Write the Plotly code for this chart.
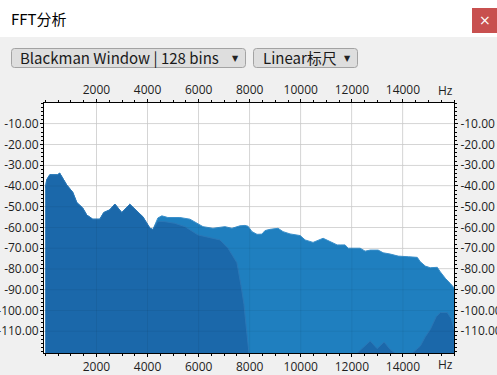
import numpy as np
import plotly.graph_objects as go

# ---------------- data ----------------
# low band: both spectra coincide
low_freq = [0, 50, 170, 480, 560, 680, 835, 1070, 1230, 1460, 1620, 1855, 2130, 2285,
            2520, 2720, 2990, 3305, 3580, 3815, 4090, 4210]
low_db = [-41, -37, -34.6, -34.6, -33.8, -36, -39.5, -43, -48, -50.6, -54, -56, -56, -52.8,
          -51.5, -48.7, -52.8, -48.8, -52.3, -54.8, -60.3, -61]

# upper part of the lighter (back) spectrum
light_hi_freq = [4405, 4560, 4795, 5265, 5660, 5935, 6170, 6560, 7030, 7305,
                 7620, 7815, 7935, 8090, 8285, 8480, 8600, 8795, 9110, 9305,
                 9580, 9975, 10170, 10480, 10755, 10875, 11150, 11425, 11540, 11735,
                 11855, 12325, 12520, 12720, 13030, 13225, 13500, 13815, 14210, 14560,
                 14680, 14875, 15070, 15345, 15465, 15660, 15855, 16000]
light_hi_db = [-55.4, -54.4, -55.2, -55.2, -56, -58, -59.6, -60.4, -59.6, -60.4,
               -59.2, -59.0, -59.4, -62, -63.3, -63.2, -61.5, -60.9, -60.4, -62,
               -63.1, -63.9, -66, -67.2, -65.7, -65.2, -66.8, -68.4, -68.4, -68.4,
               -70, -70, -71.4, -70.9, -70.9, -72.2, -72.8, -73.8, -74.1, -74.4,
               -76.5, -78.6, -79.4, -79.2, -81.4, -84.5, -87, -89]

# upper part of the darker (front) spectrum
dark_hi_freq = [4405, 4680, 5070, 5465, 5975, 6445, 6835, 7150, 7500, 7660, 7775, 7855,
                7935, 8010, 12150, 12210, 12720, 12990, 13265, 13500, 13740, 14365,
                14680, 14875, 15070, 15305, 15465, 15735, 15895, 16000]
dark_hi_db = [-57, -57.2, -58, -59.6, -63.6, -65, -66, -70, -77, -88, -97, -107,
              -117, -125, -125, -120.5, -114.7, -118.4, -115.2, -118.8, -121, -120.5,
              -117.2, -112.7, -109.2, -103, -101, -101, -104, -109]

x_ticks = [2000, 4000, 6000, 8000, 10000, 12000, 14000]
y_ticks = [-10, -20, -30, -40, -50, -60, -70, -80, -90, -100, -110]
window_label = "Blackman Window | 128 bins"
scale_label = "Linear标尺"
title_text = "FFT分析"
unit_label = "Hz"

light_freq = low_freq + light_hi_freq
light_db = low_db + light_hi_db
dark_freq = low_freq + dark_hi_freq
dark_db = low_db + dark_hi_db

# ---------------- geometry ----------------
W, H = 497, 375
L, R, T, B = 44, 43, 103, 22
PW, PH = W - L - R, H - T - B
FLOOR = -140
X_RANGE = [-55, 16000]
Y_RANGE = [-120.5, 0]


def px(x):
    return (x - L) / PW


def py(y):
    return (H - B - y) / PH


def rrect(x0, y0, x1, y1, r=3):
    a0, a1 = px(x0), px(x1)
    b0, b1 = py(y0), py(y1)
    rx, ry = r / PW, r / PH
    return (f"M{a0+rx},{b0} L{a1-rx},{b0} Q{a1},{b0} {a1},{b0-ry} "
            f"L{a1},{b1+ry} Q{a1},{b1} {a1-rx},{b1} L{a0+rx},{b1} "
            f"Q{a0},{b1} {a0},{b1+ry} L{a0},{b0-ry} Q{a0},{b0} {a0+rx},{b0} Z")


LIGHT = "#1f7fbf"
DARK = "#1b68aa"

fig = go.Figure()
fig.add_trace(go.Scatter(x=light_freq, y=[FLOOR] * len(light_freq), mode="lines",
                         line=dict(width=0), hoverinfo="skip", showlegend=False))
fig.add_trace(go.Scatter(x=light_freq, y=light_db, mode="lines", fill="tonexty",
                         fillcolor=LIGHT, line=dict(color="#3a8fca", width=1),
                         showlegend=False))
fig.add_trace(go.Scatter(x=dark_freq, y=[FLOOR] * len(dark_freq), mode="lines",
                         line=dict(width=0), hoverinfo="skip", showlegend=False))
fig.add_trace(go.Scatter(x=dark_freq, y=dark_db, mode="lines", fill="tonexty",
                         fillcolor=DARK, line=dict(color="#2b77b6", width=1),
                         showlegend=False))
# dummy trace to activate mirrored axes
fig.add_trace(go.Scatter(x=[None], y=[None], xaxis="x2", yaxis="y2",
                         showlegend=False, hoverinfo="skip"))

tickfont = dict(family="Open Sans", size=12, color="#1e1e1e")
x_minor = list(np.arange(0, 16001, 500))
y_minor = list(np.arange(-120, 1, 2))

common_x = dict(range=X_RANGE, tickmode="array", tickvals=x_ticks,
                ticktext=[str(v) for v in x_ticks], tickfont=tickfont,
                ticks="outside", ticklen=3, tickcolor="black",
                showline=True, linecolor="black", linewidth=1,
                zeroline=False, automargin=False, fixedrange=True,
                minor=dict(tickmode="array", tickvals=x_minor, ticks="outside",
                           ticklen=2, tickcolor="black", showgrid=False))
common_y = dict(range=Y_RANGE, tickmode="array", tickvals=y_ticks,
                ticktext=[f"{v:.2f}" for v in y_ticks], tickfont=tickfont,
                ticks="outside", ticklen=3, tickcolor="black",
                showline=True, linecolor="black", linewidth=1,
                zeroline=False, automargin=False, fixedrange=True,
                minor=dict(tickmode="array", tickvals=y_minor, ticks="outside",
                           ticklen=2, tickcolor="black", showgrid=False))

fig.update_layout(
    width=W, height=H,
    margin=dict(l=L, r=R, t=T, b=B, pad=0),
    paper_bgcolor="#f0f0f0", plot_bgcolor="white",
    xaxis=dict(**common_x, side="bottom", showgrid=True, gridcolor="#e2e2e2", gridwidth=1),
    yaxis=dict(**common_y, side="left", showgrid=True, gridcolor="#e2e2e2", gridwidth=1,
               ticklabelstandoff=-1),
    xaxis2=dict(**common_x, side="top", overlaying="x", anchor="y", showgrid=False),
    yaxis2=dict(**common_y, side="right", overlaying="y", anchor="x", showgrid=False),
    showlegend=False,
)

shapes = []
# faint grid lines drawn over the fill
for v in x_ticks:
    shapes.append(dict(type="line", xref="x", yref="paper", x0=v, x1=v, y0=0, y1=1,
                       line=dict(color="rgba(0,0,0,0.06)", width=1), layer="above"))
for v in y_ticks:
    shapes.append(dict(type="line", xref="paper", yref="y", x0=0, x1=1, y0=v, y1=v,
                       line=dict(color="rgba(0,0,0,0.06)", width=1), layer="above"))
# title bar
shapes.append(dict(type="rect", xref="paper", yref="paper", x0=px(0), x1=px(W),
                   y0=py(37), y1=py(0), fillcolor="white", line=dict(width=0), layer="below"))
# close button
shapes.append(dict(type="rect", xref="paper", yref="paper", x0=px(472), x1=px(W + 2),
                   y0=py(33), y1=py(8), fillcolor="#c8504f", line=dict(width=0)))
# dropdown boxes
shapes.append(dict(type="path", xref="paper", yref="paper", path=rrect(11.5, 48.5, 245.5, 67.5),
                   fillcolor="#dedede", line=dict(color="#a3a3a3", width=1)))
shapes.append(dict(type="path", xref="paper", yref="paper", path=rrect(253.5, 48.5, 357.5, 67.5),
                   fillcolor="#dedede", line=dict(color="#a3a3a3", width=1)))
fig.update_layout(shapes=shapes)

ui_font = "Noto Sans CJK SC"
ann = [
    dict(text=title_text, x=px(9), y=py(19), xanchor="left", yanchor="middle",
         font=dict(family=ui_font, size=15, color="black")),
    dict(text="×", x=px(484.5), y=py(20.5), xanchor="center", yanchor="middle",
         font=dict(family="DejaVu Sans", size=14, color="white")),
    dict(text=window_label, x=px(18), y=py(57.5), xanchor="left", yanchor="middle",
         font=dict(family=ui_font, size=15, color="#1a1a1a")),
    dict(text="▼", x=px(235.5), y=py(58.5), xanchor="center", yanchor="middle",
         font=dict(family="DejaVu Sans", size=8, color="#222")),
    dict(text=scale_label, x=px(260.5), y=py(57.5), xanchor="left", yanchor="middle",
         font=dict(family=ui_font, size=15, color="#1a1a1a")),
    dict(text="▼", x=px(347), y=py(58.5), xanchor="center", yanchor="middle",
         font=dict(family="DejaVu Sans", size=8, color="#222")),
    dict(text=unit_label, x=px(445), y=py(90.5), xanchor="center", yanchor="middle",
         font=tickfont),
    dict(text=unit_label, x=px(445), y=py(364), xanchor="center", yanchor="middle",
         font=tickfont),
]
for a in ann:
    a.update(xref="paper", yref="paper", showarrow=False)
fig.update_layout(annotations=ann)

fig.write_html("out.html", config={"displayModeBar": False})
